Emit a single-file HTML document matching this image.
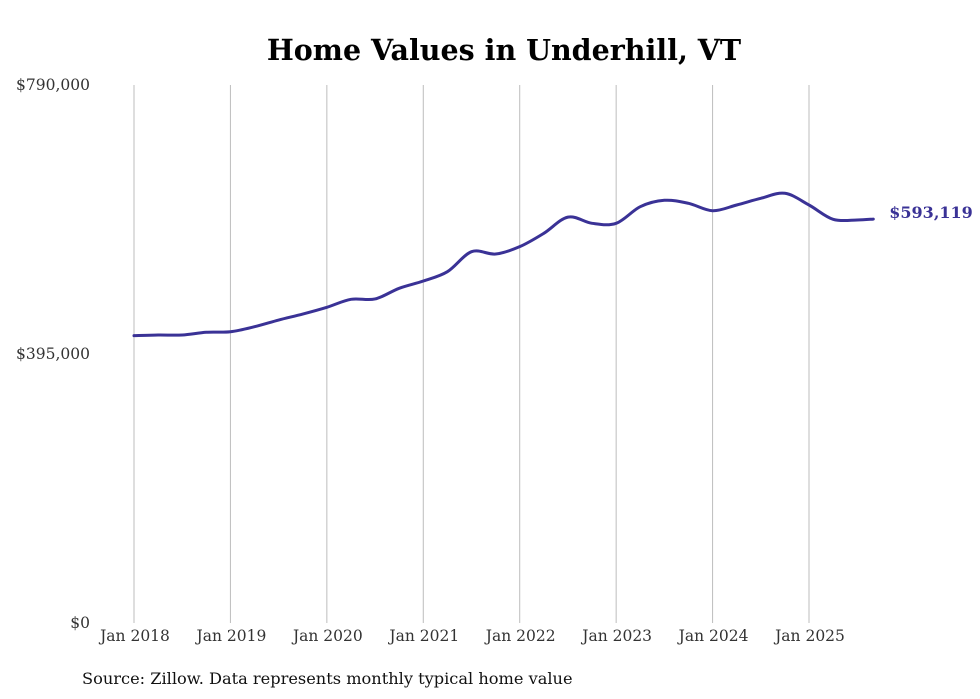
<!DOCTYPE html>
<html><head><meta charset="utf-8"><style>
html,body{margin:0;padding:0;background:#fff;}
svg{display:block;font-family:"DejaVu Serif","Liberation Serif",serif;}
</style></head><body>
<svg id="chart" width="980" height="699" viewBox="0 0 980 699">
<text x="504" y="60" text-anchor="middle" font-size="28.5" font-weight="bold" fill="#000">Home Values in Underhill, VT</text>
<g id="grid"></g><g id="yaxis"></g><g id="xaxis"></g><g id="series"></g>
<text x="82" y="684" font-size="16.2" fill="#111">Source: Zillow. Data represents monthly typical home value</text>
</svg>
<script>
const yTicks=[0,395000,790000];
const yTickLabels=["$0","$395,000","$790,000"];
const xTickYears=[2018,2019,2020,2021,2022,2023,2024,2025];
const xTickLabels=["Jan 2018","Jan 2019","Jan 2020","Jan 2021","Jan 2022","Jan 2023","Jan 2024","Jan 2025"];
// months since Jan 2018
const months=[0,3,6,9,12,15,18,21,24,27,30,33,36,39,42,45,48,51,54,57,60,63,66,69,72,75,78,81,84,87,90,92];
const values=[421900,422900,422900,426900,427700,435100,444900,453700,463600,475300,475800,491500,502200,515900,545200,541800,552600,572200,596000,586900,586900,611300,620700,616300,605400,613800,623600,631000,613800,592800,591800,593119];
const lastLabel="$593,119";
const NS="http://www.w3.org/2000/svg";
const x0=134,pxPerMonth=(809-134)/84,yTop=85,yBot=623,yMax=790000;
const xs=m=>x0+m*pxPerMonth;
const ys=v=>yBot-(v/yMax)*(yBot-yTop);
function mk(tag,attrs,parent){const e=document.createElementNS(NS,tag);for(const k in attrs)e.setAttribute(k,attrs[k]);parent.appendChild(e);return e;}
const grid=document.getElementById('grid'),ya=document.getElementById('yaxis'),xa=document.getElementById('xaxis'),se=document.getElementById('series');
xTickYears.forEach((yr,i)=>{
 const x=xs((yr-2018)*12);
 const l=mk('line',{x1:x,x2:x,y1:yTop,y2:yBot,stroke:'#bdbdbd','stroke-width':1},grid);
 
 
 const t=mk('text',{x:x+1,y:641,'text-anchor':'middle','font-size':15.5,fill:'#333'},xa);
 t.textContent=xTickLabels[i];
 
 
});
yTicks.forEach((v,i)=>{
 const t=mk('text',{x:90,y:ys(v)+5,'text-anchor':'end','font-size':15.5,fill:'#333'},ya);
 t.textContent=yTickLabels[i];
 
 
});
const pts=months.map((m,i)=>[xs(m),ys(values[i])]);
let d=`M${pts[0][0]},${pts[0][1]}`;
for(let i=0;i<pts.length-1;i++){
 const p0=pts[i-1]||pts[i],p1=pts[i],p2=pts[i+1],p3=pts[i+2]||p2;
 const c1=[p1[0]+(p2[0]-p0[0])/6,p1[1]+(p2[1]-p0[1])/6];
 const c2=[p2[0]-(p3[0]-p1[0])/6,p2[1]-(p3[1]-p1[1])/6];
 d+=` C${c1[0]},${c1[1]} ${c2[0]},${c2[1]} ${p2[0]},${p2[1]}`;
}
const path=mk('path',{d:d,fill:'none',stroke:'#3a3296','stroke-width':3,'stroke-linejoin':'round','stroke-linecap':'round'},se);


const lp=pts[pts.length-1];
const lt=mk('text',{x:lp[0]+16,y:lp[1]-1,'font-size':16,'font-weight':'bold',fill:'#3a3296'},se);
lt.textContent=lastLabel;


</script>
</body></html>
